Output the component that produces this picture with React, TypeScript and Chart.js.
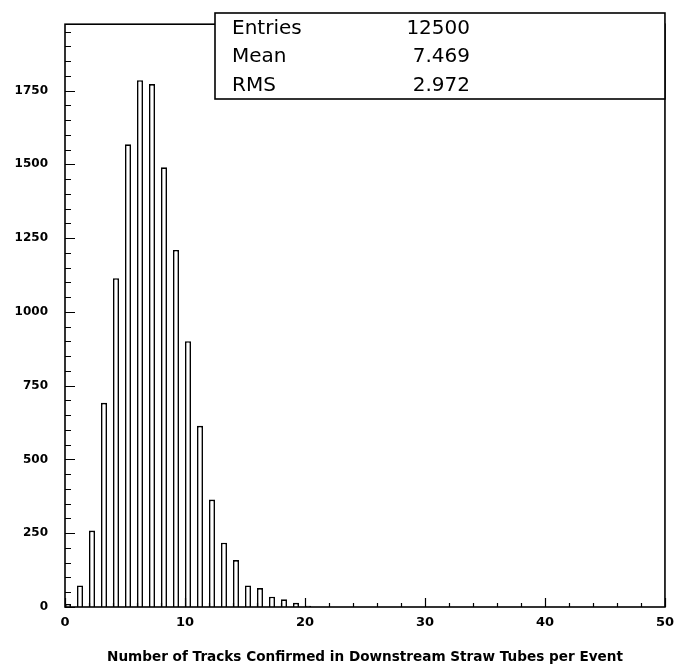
import React, { useEffect, useRef } from "react";
import { Chart, registerables } from "chart.js";

Chart.register(...registerables);

// Number of tracks per event (integer values) and the entries in each bin
const trackCounts = [0, 1, 2, 3, 4, 5, 6, 7, 8, 9, 10, 11, 12, 13, 14, 15, 16, 17, 18, 19, 20];
const binCounts = [10, 73, 259, 692, 1114, 1568, 1785, 1772, 1490, 1210, 901, 614, 364, 218, 159, 73, 64, 35, 26, 14, 4];
const binWidth = 0.5;

const statLabels = ["Entries", "Mean", "RMS"];
const statValues = ["12500", "7.469", "2.972"];

const xTitle = "Number of Tracks Confirmed in Downstream Straw Tubes per Event";
const xTickValues = [0, 10, 20, 30, 40, 50];
const yTickValues = [0, 250, 500, 750, 1000, 1250, 1500, 1750];
const xMin = 0;
const xMax = 50;
const xStep = 10;
const xMinorStep = 2;
const yMin = 0;
const yMax = 1975;
const yStep = 250;
const yMinorStep = 50;

const FONT = "'DejaVu Sans', sans-serif";

const framePlugin = {
  id: "framePlugin",
  afterDatasetsDraw(chart: any) {
    const { ctx, chartArea } = chart;
    const { left, right, top, bottom } = chartArea;
    const xs = chart.scales.x;
    const ys = chart.scales.y;
    ctx.save();
    ctx.strokeStyle = "#000";
    ctx.lineWidth = 1.6;
    ctx.strokeRect(left, top, right - left, bottom - top);
    ctx.lineWidth = 1.2;
    ctx.beginPath();
    for (let v = yMin; v <= yMax; v += yMinorStep) {
      const y = Math.round(ys.getPixelForValue(v)) + 0.5;
      const len = v % yStep === 0 ? 10 : 6;
      ctx.moveTo(left, y);
      ctx.lineTo(left + len, y);
    }
    for (let v = xMin; v <= xMax; v += xMinorStep) {
      const x = Math.round(xs.getPixelForValue(v)) + 0.5;
      const len = v % xStep === 0 ? 9 : 4;
      ctx.moveTo(x, bottom);
      ctx.lineTo(x, bottom - len);
    }
    ctx.stroke();
    ctx.restore();
  },
  afterDraw(chart: any) {
    const { ctx, chartArea } = chart;
    const boxLeft = 215;
    const boxTop = 13;
    const boxRight = chartArea.right;
    const boxBottom = 99;
    ctx.save();
    ctx.fillStyle = "#fff";
    ctx.fillRect(boxLeft, boxTop, boxRight - boxLeft, boxBottom - boxTop);
    ctx.strokeStyle = "#000";
    ctx.lineWidth = 1.6;
    ctx.strokeRect(boxLeft, boxTop, boxRight - boxLeft, boxBottom - boxTop);
    ctx.fillStyle = "#000";
    ctx.font = `20px ${FONT}`;
    ctx.textBaseline = "middle";
    const rowH = (boxBottom - boxTop) / statLabels.length;
    statLabels.forEach((lab, i) => {
      const y = boxTop + rowH * (i + 0.5) + 1;
      ctx.textAlign = "left";
      ctx.fillText(lab, boxLeft + 17, y);
      ctx.textAlign = "right";
      ctx.fillText(statValues[i], 470, y);
    });
    ctx.restore();
  },
};

export default function App() {
  const ref = useRef<HTMLCanvasElement>(null);
  useEffect(() => {
    const data = trackCounts.map((n, i) => ({ x: n + binWidth / 2, y: binCounts[i] }));
    const chart = new Chart(ref.current as HTMLCanvasElement, {
      type: "bar",
      data: {
        datasets: [
          {
            data: data as any,
            backgroundColor: "#ffffff",
            borderColor: "#000000",
            borderWidth: 1.6,
            barPercentage: 0.5,
            categoryPercentage: 1,
            borderSkipped: "bottom",
          },
        ],
      },
      options: {
        responsive: false,
        animation: false,
        devicePixelRatio: 1,
        layout: { padding: { top: 14, right: 12, left: 0, bottom: 0 } },
        plugins: { legend: { display: false }, tooltip: { enabled: false } },
        scales: {
          x: {
            type: "linear",
            offset: false,
            min: xMin,
            max: xMax,
            grid: { display: false, drawTicks: false },
            border: { display: false },
            afterBuildTicks: (s: any) => {
              s.ticks = xTickValues.map((v) => ({ value: v }));
            },
            ticks: {
              padding: 8,
              color: "#000",
              maxRotation: 0,
              autoSkip: false,
              callback: (v: any) => String(v),
              font: { family: FONT, size: 13, weight: "bold" },
            },
            title: {
              display: true,
              text: xTitle,
              color: "#000",
              font: { family: FONT, size: 13.6, weight: "bold" },
              padding: { top: 4, bottom: 1 },
            },
            afterFit: (s: any) => {
              s.height = 60;
            },
          },
          y: {
            type: "linear",
            min: yMin,
            max: yMax,
            grid: { display: false, drawTicks: false },
            border: { display: false },
            afterBuildTicks: (s: any) => {
              s.ticks = yTickValues.map((v) => ({ value: v }));
            },
            ticks: {
              padding: 17,
              color: "#000",
              autoSkip: false,
              callback: (v: any) => String(v),
              font: { family: FONT, size: 12, weight: "bold" },
            },
            afterFit: (s: any) => {
              s.width = 65;
            },
          },
        },
      },
      plugins: [framePlugin],
    });
    return () => chart.destroy();
  }, []);
  return (
    <div style={{ position: "absolute", left: 0, top: 0, width: 682, height: 667, background: "#fff" }}>
      <canvas ref={ref} width={682} height={667} style={{ display: "block" }} />
    </div>
  );
}
